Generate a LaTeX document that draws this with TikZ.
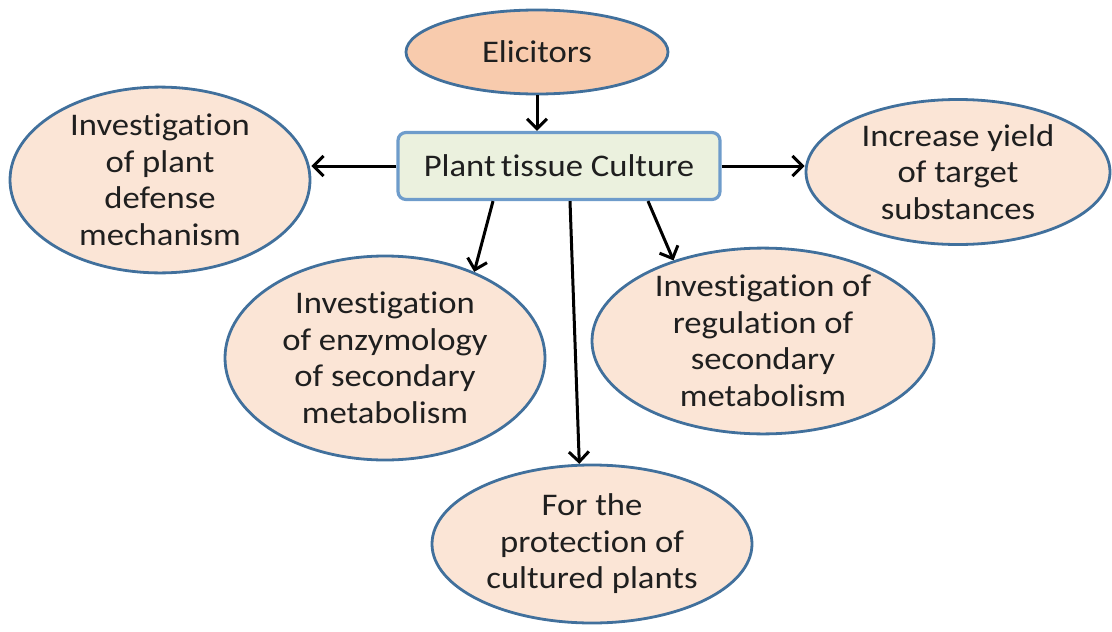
\documentclass[tikz,border=0pt]{standalone}
\usepackage{fontspec}
\setmainfont{Carlito}[FakeStretch=1.1, Ligatures=NoCommon]
\usetikzlibrary{positioning, arrows.meta, shapes.geometric, calc}
\definecolor{ovalfill}{HTML}{FBE5D6}
\definecolor{elicfill}{HTML}{F8CBAD}
\definecolor{ovalline}{HTML}{41709C}
\definecolor{boxfill}{HTML}{EBF1DE}
\definecolor{boxline}{HTML}{6E9CCB}

\tikzset{
  oval/.style={draw=ovalline, line width=2.8pt, fill=ovalfill, ellipse,
    inner sep=0pt, align=center, text=black!88,
    font=\fontsize{31.5}{36.5}\selectfont},
  corebox/.style={draw=boxline, line width=3.2pt, fill=boxfill, rounded corners=8pt,
    minimum width=322pt, minimum height=67pt, text=black!88,
    font=\fontsize{31.5}{36}\selectfont},
  link/.style={line width=3pt, -{Straight Barb[length=10pt,width=20pt,line width=3pt]}}
}

\begin{document}
\begin{tikzpicture}[x=1pt,y=-1pt]
  \useasboundingbox (0,0) rectangle (1112,632);

  % central box and the elicitor on top
  \node[corebox] (ptc) at (559,166) {Plant\,tissue Culture};
  \node[oval, fill=elicfill, minimum width=262pt, minimum height=84pt] (elic) at (537,52) {Elicitors};

  % the five uses
  \node[oval, minimum width=300pt, minimum height=160pt] (defense) at (160,180)
    {Investigation\\of plant\\defense\\mechanism};
  \node[oval, minimum width=304pt, minimum height=145pt] (yield) at (958,172)
    {Increase yield\\of target\\substances};
  \node[oval, minimum width=320pt, minimum height=204pt] (enzym) at (385,358)
    {Investigation\\of enzymology\\of secondary\\metabolism};
  \node[oval, minimum width=342pt, minimum height=174pt] (regul) at (763,341)
    {Investigation of\\regulation of\\secondary\\metabolism};
  \node[oval, minimum width=320pt, minimum height=158pt] (protect) at (592,544)
    {For the\\protection of\\cultured plants};

  % arrows
  \draw[link] (elic) -- (elic |- ptc.north);
  \draw[link] (ptc.west) -- (ptc.west -| defense.east);
  \draw[link] (ptc.east) -- (ptc.east -| yield.west);
  \draw[link] ([xshift=-66pt]ptc.south) -- (enzym.44);
  \draw[link] ([xshift=11pt]ptc.south) -- (protect.99);
  \draw[link] ([xshift=89pt]ptc.south) -- (regul.138);
\end{tikzpicture}
\end{document}
